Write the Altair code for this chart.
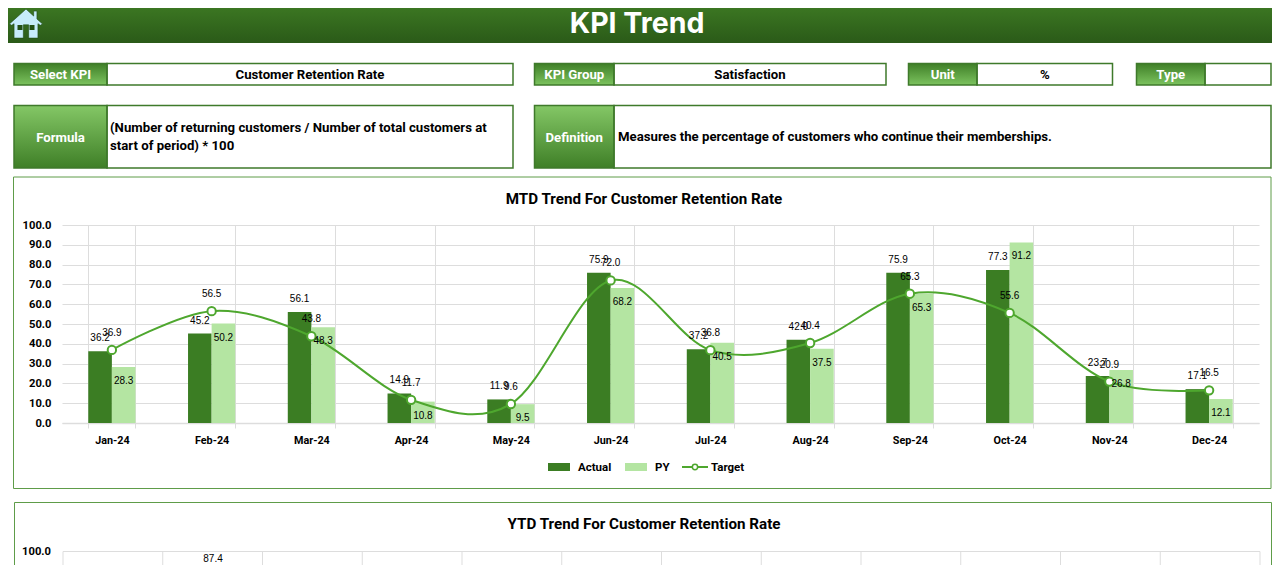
import altair as alt
import pandas as pd

months = ["Jan-24", "Feb-24", "Mar-24", "Apr-24", "May-24", "Jun-24", "Jul-24", "Aug-24", "Sep-24", "Oct-24", "Nov-24", "Dec-24"]
actual = [36.2, 45.2, 56.1, 14.9, 11.9, 75.9, 37.2, 42.0, 75.9, 77.3, 23.7, 17.1]
py_vals = [28.3, 50.2, 48.3, 10.8, 9.5, 68.2, 40.5, 37.5, 65.3, 91.2, 26.8, 12.1]
target = [36.9, 56.5, 43.8, 11.7, 9.6, 72.0, 36.8, 40.4, 65.3, 55.6, 20.9, 16.5]
series_names = ["Actual", "PY"]

DARK = "#3B7D23"
LIGHT = "#B4E5A2"
LINE = "#4EA72E"
FRAME = "#3F7A2B"
GRID = "#DDDDDD"
UI = "Roboto"
NUM = "Liberation Sans"
BODY = 13.2

PAD_L, PAD_T, PLOT_W, PLOT_H = 54, 217, 1197, 198
PAD_R, PAD_B = 1264 - PAD_L - PLOT_W, 557 - PAD_T - PLOT_H


def px(v):
    return v - 8 - PAD_L


def py(v):
    return v - 8 - PAD_T


def rect(x0, y0, x1, y1, **kw):
    return alt.Chart().mark_rect(**kw).encode(
        x=alt.value(px(x0)), x2=alt.value(px(x1)), y=alt.value(py(y0)), y2=alt.value(py(y1))
    )


def line(x0, y0, x1, y1, color, width=1):
    return alt.Chart().mark_rule(color=color, strokeWidth=width).encode(
        x=alt.value(px(x0)), x2=alt.value(px(x1)), y=alt.value(py(y0)), y2=alt.value(py(y1))
    )


def label(x, y, s, size=12, color="black", align="center", font=UI, weight="bold"):
    return alt.Chart().mark_text(
        text=s, fontSize=size, color=color, align=align, baseline="middle", font=font, fontWeight=weight
    ).encode(x=alt.value(px(x)), y=alt.value(py(y)))


def grad(top, bottom):
    return alt.LinearGradient(
        gradient="linear", x1=0, x2=0, y1=0, y2=1,
        stops=[alt.GradientStop(color=top, offset=0), alt.GradientStop(color=bottom, offset=1)],
    )


def field(x0, xm, x1, y0, y1, head, value, top, bottom):
    out = [
        rect(x0, y0, xm, y1, fill=grad(top, bottom), stroke=FRAME, strokeWidth=1.5),
        rect(xm, y0, x1, y1, filled=False, stroke=FRAME, strokeWidth=1.5),
        label((x0 + xm) / 2, (y0 + y1) / 2 + 1, head, color="white", size=BODY),
    ]
    if value:
        out.append(label((xm + x1) / 2, (y0 + y1) / 2 + 0.5, value, size=BODY))
    return out


deco = [
    rect(0, 0, 1272, 43, fill=grad("#3F7C24", "#2A5A18")),
    label(637, 24, "KPI Trend", size=28.5, color="white", font="Inter"),
    alt.Chart().mark_point(
        shape="M0,-0.9 L-1,0 L-0.86,0.08 L-0.72,-0.02 L-0.72,0.85 L-0.16,0.85 L-0.16,0.05 L0.16,0.05 L0.16,0.85 "
              "L0.72,0.85 L0.72,-0.02 L0.86,0.08 L1,0 L0.66,-0.3 L0.66,-0.78 L0.46,-0.78 L0.46,-0.48 Z",
        size=1100, filled=True, fill="#C6ECFB", stroke="#1F4A12", strokeWidth=0.6, opacity=1,
    ).encode(x=alt.value(px(26)), y=alt.value(py(24))),
    rect(17.5, 25, 22.5, 30, fill="#234F14"),
    rect(29.5, 25, 34.5, 30, fill="#234F14"),
]
deco += field(14, 107, 513, 63.5, 85, "Select KPI", "Customer Retention Rate", "#3F7F27", "#7CC35F")
deco += field(534.5, 614, 886, 63.5, 85, "KPI Group", "Satisfaction", "#3F7F27", "#7CC35F")
deco += field(908.5, 977, 1112.5, 63.5, 85, "Unit", "%", "#3F7F27", "#7CC35F")
deco += field(1136.5, 1205, 1271, 63.5, 85, "Type", "", "#3F7F27", "#7CC35F")
deco += field(14, 107, 513, 105.5, 168, "Formula", "", "#84C766", "#3F7F27")
deco += field(534.5, 614, 1271, 105.5, 168, "Definition", "", "#84C766", "#3F7F27")
deco += [
    label(110, 128, "(Number of returning customers / Number of total customers at", align="left", size=BODY),
    label(110, 146, "start of period) * 100", align="left", size=BODY),
    label(618, 137, "Measures the percentage of customers who continue their memberships.", align="left", size=BODY),
    rect(13.5, 177, 1271, 488.5, filled=False, stroke="#5E9C49", strokeWidth=1),
    rect(14.5, 502.5, 1271.5, 600, filled=False, stroke="#5E9C49", strokeWidth=1),
    label(644, 198.5, "MTD Trend For Customer Retention Rate", size=15.2),
    label(644, 524, "YTD Trend For Customer Retention Rate", size=15.2),
    # MTD legend
    rect(548, 463, 570, 471, fill=DARK),
    label(578, 467.5, "Actual", size=11.5, align="left"),
    rect(625, 463, 647, 471, fill=LIGHT),
    label(655, 467.5, "PY", size=11.5, align="left"),
    line(682, 467, 708, 467, LINE, 2),
    alt.Chart().mark_point(filled=True, fill="white", stroke=LINE, strokeWidth=1.5, size=28, opacity=1).encode(
        x=alt.value(px(695)), y=alt.value(py(467))
    ),
    label(711, 467.5, "Target", size=11.5, align="left"),
    # top of the YTD chart, cut off by the window
    line(63, 551.5, 1260, 551.5, GRID, 1),
    label(51, 552, "100.0", size=11.2, align="right"),
    label(213, 558.5, "87.4", size=10, font=NUM, weight="normal"),
]
deco += [line(63 + 99.75 * i, 551.5, 63 + 99.75 * i, 566, GRID, 1) for i in range(13)]

bars_df = pd.DataFrame(
    {
        "month": months * 2,
        "series": [series_names[0]] * 12 + [series_names[1]] * 12,
        "value": actual + py_vals,
    }
)
target_df = pd.DataFrame({"month": months, "value": target})

x_enc = alt.X(
    "month:N",
    sort=months,
    title=None,
    scale=alt.Scale(paddingInner=0.527, paddingOuter=0.2635),
    axis=alt.Axis(
        labelAngle=0, labelFont=UI, labelFontWeight="bold", labelFontSize=10.8, labelColor="black",
        tickBand="extent", tickColor=GRID, tickSize=5, labelPadding=6, grid=True, gridColor=GRID,
        domainColor=GRID, domainWidth=1.5,
    ),
)
y_enc = alt.Y(
    "value:Q",
    title=None,
    scale=alt.Scale(domain=[0, 100], nice=False),
    axis=alt.Axis(
        values=list(range(0, 101, 10)), format=".1f", labelFont=UI, labelFontWeight="bold", labelFontSize=11.2,
        labelColor="black", ticks=False, domain=False, labelPadding=11, grid=True, gridColor=GRID, gridWidth=1.2,
    ),
)
off = alt.XOffset("series:N", sort=series_names)

bars = alt.Chart(bars_df).mark_bar().encode(
    x=x_enc, y=y_enc, xOffset=off,
    color=alt.Color("series:N", scale=alt.Scale(domain=series_names, range=[DARK, LIGHT]), legend=None),
)
base_text = dict(font=NUM, fontSize=10, color="black", baseline="middle", align="center")
actual_text = alt.Chart(bars_df[bars_df.series == "Actual"]).mark_text(dy=-13, **base_text).encode(
    x=x_enc, y=y_enc, xOffset=off, text=alt.Text("value:Q", format=".1f")
)
py_text = alt.Chart(bars_df[bars_df.series == "PY"]).mark_text(dy=14, **base_text).encode(
    x=x_enc, y=y_enc, xOffset=off, text=alt.Text("value:Q", format=".1f")
)
tline = alt.Chart(target_df).mark_line(color=LINE, strokeWidth=2, interpolate="cardinal", tension=0).encode(x=x_enc, y=y_enc)
tpts = alt.Chart(target_df).mark_point(filled=True, fill="white", stroke=LINE, strokeWidth=2, size=70, opacity=1).encode(x=x_enc, y=y_enc)
ttext = alt.Chart(target_df).mark_text(dy=-17, **base_text).encode(x=x_enc, y=y_enc, text=alt.Text("value:Q", format=".1f"))

chart = alt.layer(*deco, bars, tline, tpts, actual_text, py_text, ttext).resolve_scale(
    x="shared", y="shared"
).properties(
    width=PLOT_W,
    height=PLOT_H,
    padding={"left": PAD_L, "top": PAD_T, "right": PAD_R, "bottom": PAD_B},
    autosize=alt.AutoSizeParams(type="none"),
    background="white",
).configure_view(stroke=None)

chart.save("out.html", embed_options={"renderer": "svg", "actions": False})
